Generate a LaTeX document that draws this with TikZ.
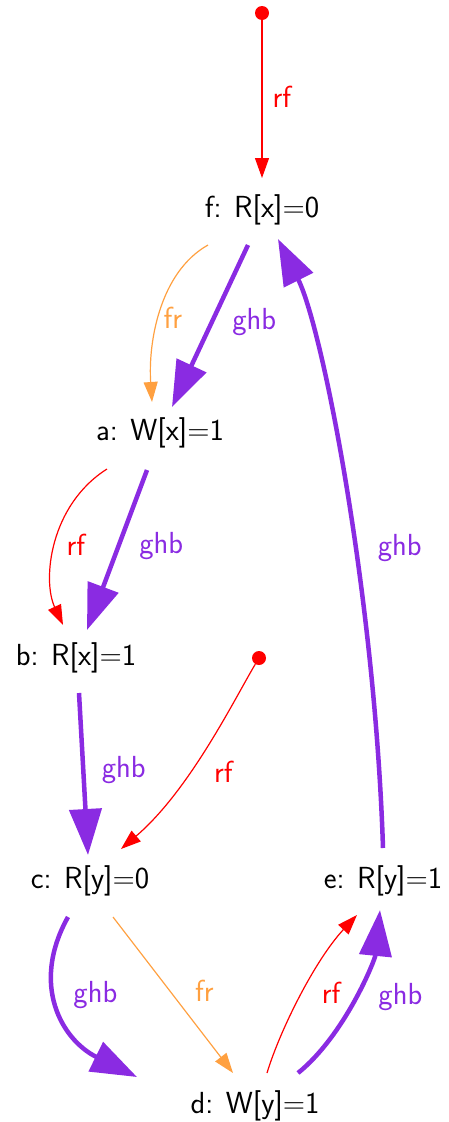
\documentclass[tikz,border=0pt]{standalone}
\usepackage{fontspec}
\usepackage{tikz}
\usetikzlibrary{arrows.meta,calc,positioning}
\definecolor{rfred}{RGB}{255,0,0}
\definecolor{frorange}{RGB}{255,160,64}
\definecolor{ghbpurple}{RGB}{138,43,226}

\begin{document}
\begin{tikzpicture}[x=1pt, y=-1pt, font=\sffamily\fontsize{30.5}{36}\selectfont]
  \tikzstyle{event} = [inner sep=0pt, anchor=base]
  \tikzstyle{init} = [circle, fill=rfred, inner sep=0pt, minimum size=14pt]
  \tikzstyle{lbl} = [inner sep=0pt, text height=0.7em, text depth=0pt]
  \tikzstyle{rf} = [draw=rfred, line width=1.2pt, -{Triangle[length=20pt,width=14pt]}]
  \tikzstyle{fr} = [draw=frorange, line width=1.2pt, -{Triangle[length=20pt,width=14pt]}]
  \tikzstyle{ghb} = [draw=ghbpurple, line width=4.5pt, -{Triangle[length=46pt,width=32pt]}]

  \useasboundingbox (0,0) rectangle (449,1122);

  \node[init] (initx) at (262,13) {};
  \node[init] (inity) at (259,658) {};
  \node[event] (f) at (262,217) {f: R[x]=0};
  \node[event] (a) at (160,440) {a: W[x]=1};
  \node[event] (b) at (76,665) {b: R[x]=1};
  \node[event] (c) at (90,888) {c: R[y]=0};
  \node[event] (e) at (383,888) {e: R[y]=1};
  \node[event] (d) at (255,1113) {d: W[y]=1};

  \draw[rf] (initx) -- node[lbl, pos=0.53, right=10pt, text=rfred] {rf} ($(f.base)+(0,-39)$);
  \draw[fr] ($(f.base)+(-54,28)$) .. controls +(-48,27) and +(-4,-60) .. node[lbl, pos=0.58, right=6pt, text=frorange] {fr} ($(a.base)+(-8,-38)$);
  \draw[ghb] ($(f.base)+(-14,28)$) -- node[lbl, pos=0.5, right=20pt, text=ghbpurple] {ghb} ($(a.base)+(12,-33)$);
  \draw[rf] ($(a.base)+(-53,29)$) .. controls +(-57,36) and +(-21,-45) .. node[lbl, pos=0.55, right=12pt, text=rfred] {rf} ($(b.base)+(-13,-40)$);
  \draw[ghb] ($(a.base)+(-13,30)$) -- node[lbl, pos=0.5, right=20pt, text=ghbpurple] {ghb} ($(b.base)+(11,-35)$);
  \draw[ghb] ($(b.base)+(3,28)$) -- node[lbl, pos=0.5, right=16pt, text=ghbpurple] {ghb} ($(c.base)+(-2,-33)$);
  \draw[rf] (inity) .. controls +(-24,40) and +(69,-59) .. node[lbl, pos=0.65, right=29pt, text=rfred] {rf} ($(c.base)+(31,-39)$);
  \draw[ghb] ($(e.base)+(0,-40)$) .. controls +(-8,-250) and +(45,90) .. node[lbl, pos=0.40, right=20pt, text=ghbpurple] {ghb} ($(f.base)+(16,22)$);
  \draw[ghb] ($(c.base)+(-22,29)$) .. controls +(-38,68) and +(-75,-37) .. node[lbl, pos=0.44, right=15pt, text=ghbpurple] {ghb} ($(d.base)+(-118,-36)$);
  \draw[fr] ($(c.base)+(23,29)$) -- node[lbl, pos=0.52, right=19pt, text=frorange] {fr} ($(d.base)+(-22,-40)$);
  \draw[rf] ($(d.base)+(12,-40)$) .. controls +(13,-43) and +(-42,45) .. node[lbl, pos=0.47, right=23pt, text=rfred] {rf} ($(e.base)+(-26,27)$);
  \draw[ghb] ($(d.base)+(43,-40)$) .. controls +(47,-38) and +(-5,50) .. node[lbl, pos=0.47, right=24pt, text=ghbpurple] {ghb} ($(e.base)+(-3,22)$);
\end{tikzpicture}
\end{document}
